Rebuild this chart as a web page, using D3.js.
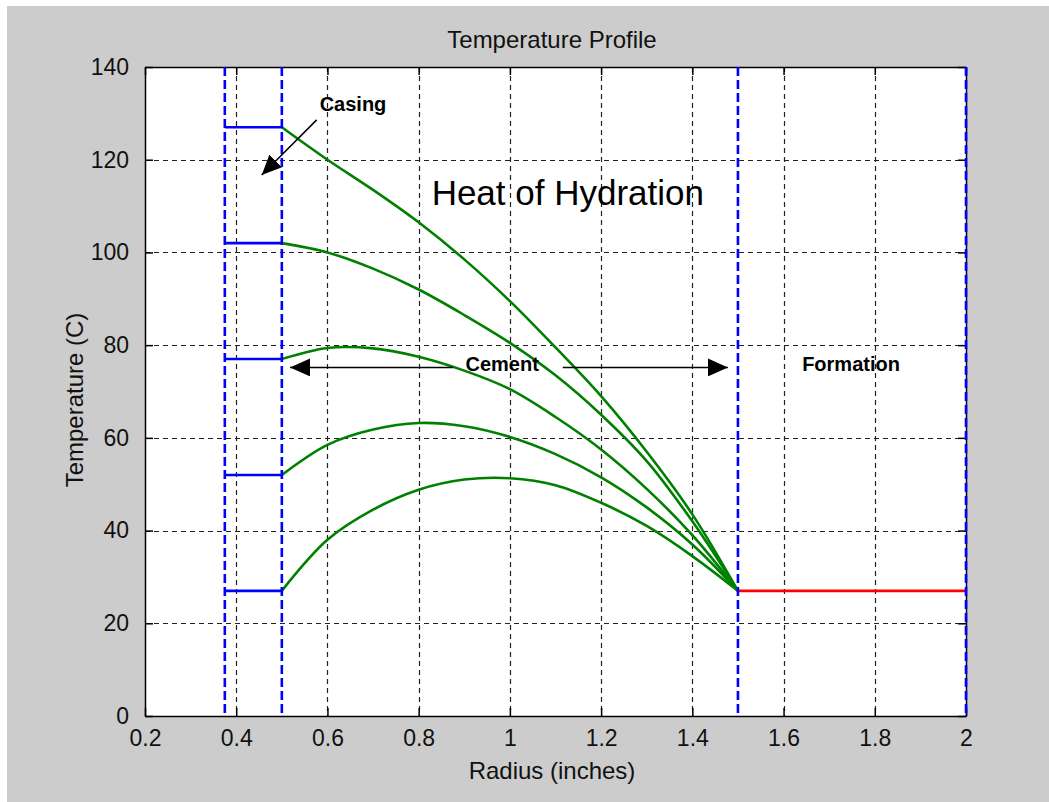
<!DOCTYPE html>
<html><head><meta charset="utf-8">
<script src="https://cdn.jsdelivr.net/npm/d3@7"></script>
<style>
html,body{margin:0;padding:0;background:#fff;}
svg{display:block;}
text{font-family:Arial,"Liberation Sans",sans-serif;}
</style></head>
<body>
<script>
// ---- data ----
const radius = [0.5,0.6,0.7,0.8,0.9,1.0,1.1,1.2,1.3,1.4,1.5];
const curve1 = [127,120,113.5,106.5,98.5,89.5,79.5,69,57,43.5,27];
const curve2 = [102,100,96.5,92,86.5,80.5,73.5,65,55,42,27];
const curve3 = [77,79.4,79.3,77.5,74.5,70.5,64.5,57.5,49,39,27];
const curve4 = [52,58.5,61.8,63.2,62.5,60.2,56.5,51.5,45,37,27];
const curve5 = [27,38,44.5,48.8,51,51.3,49.8,46,41,34.5,27];
const greenSeries = [curve1,curve2,curve3,curve4,curve5];
const casingR = [0.375,0.5];
const casingT = [127,102,77,52,27];
const formationR = [1.5,2.0];
const formationT = [27,27];
const boundaries = [0.375,0.5,1.5,2.0];
const xTicks = [0.2,0.4,0.6,0.8,1.0,1.2,1.4,1.6,1.8,2.0];
const yTicks = [0,20,40,60,80,100,120,140];
const xTickLabels = ["0.2","0.4","0.6","0.8","1","1.2","1.4","1.6","1.8","2"];

const W=1049,H=802;
const L=145,R=966,T=67,B=716;
const svg=d3.select("body").append("svg").attr("width",W).attr("height",H);
svg.append("rect").attr("x",7).attr("y",6).attr("width",W-7).attr("height",H-6).attr("fill","#cccccc");
const x=d3.scaleLinear().domain([0.2,2]).range([L,R]);
const y=d3.scaleLinear().domain([0,140]).range([B,T]);
svg.append("rect").attr("x",L).attr("y",T).attr("width",R-L).attr("height",B-T).attr("fill","#fff");

// grid
const g=svg.append("g");
g.selectAll(".gx").data(xTicks.slice(1,-1)).enter().append("line")
 .attr("x1",d=>Math.round(x(d))+0.5).attr("x2",d=>Math.round(x(d))+0.5).attr("y1",T).attr("y2",B)
 .attr("stroke","#222").attr("stroke-width",1.2).attr("stroke-dasharray","5,4");
g.selectAll(".gy").data(yTicks.slice(1,-1)).enter().append("line")
 .attr("y1",d=>Math.round(y(d))+0.5).attr("y2",d=>Math.round(y(d))+0.5).attr("x1",L).attr("x2",R)
 .attr("stroke","#222").attr("stroke-width",1.2).attr("stroke-dasharray","5,4");

// axes with inner ticks
const tl=8;
const ax=svg.append("g").attr("transform",`translate(0,${B})`).call(d3.axisBottom(x).tickValues(xTicks).tickFormat((d,i)=>xTickLabels[i]).tickSizeInner(-tl).tickSizeOuter(0).tickPadding(14));
const axT=svg.append("g").attr("transform",`translate(0,${T})`).call(d3.axisTop(x).tickValues(xTicks).tickFormat("").tickSizeInner(-tl).tickSizeOuter(0));
const ay=svg.append("g").attr("transform",`translate(${L},0)`).call(d3.axisLeft(y).tickValues(yTicks).tickSizeInner(-tl).tickSizeOuter(0).tickPadding(16));
const ayR=svg.append("g").attr("transform",`translate(${R},0)`).call(d3.axisRight(y).tickValues(yTicks).tickFormat("").tickSizeInner(-tl).tickSizeOuter(0));
[ax,axT,ay,ayR].forEach(a=>{
  a.selectAll("path").attr("stroke","#000").attr("stroke-width",1.5);
  a.selectAll("line").attr("stroke","#000").attr("stroke-width",1.5);
  a.selectAll("text").attr("font-size",23).attr("fill","#111").style("font-family","Arial, 'Liberation Sans', sans-serif");
});
ax.selectAll("text").attr("dy","0.71em");

// series
const line=d3.line().x((d,i)=>x(radius[i])).y(d=>y(d)).curve(d3.curveCatmullRom.alpha(0.5));
svg.append("g").selectAll("path").data(greenSeries).enter().append("path")
 .attr("d",line).attr("fill","none").attr("stroke","#008000").attr("stroke-width",2.6);
svg.append("g").selectAll("line").data(casingT).enter().append("line")
 .attr("x1",x(casingR[0])).attr("x2",x(casingR[1])).attr("y1",d=>y(d)).attr("y2",d=>y(d))
 .attr("stroke","#0000ff").attr("stroke-width",2.6);
svg.append("line").attr("x1",x(formationR[0])).attr("x2",x(formationR[1])).attr("y1",y(formationT[0])).attr("y2",y(formationT[1]))
 .attr("stroke","#ff0000").attr("stroke-width",2.6);
svg.append("g").selectAll("line").data(boundaries).enter().append("line")
 .attr("x1",d=>x(d)).attr("x2",d=>x(d)).attr("y1",T).attr("y2",B)
 .attr("stroke","#0000ff").attr("stroke-width",2.6).attr("stroke-dasharray","9,4");

// annotations
const arrows=[
  {x1:0.5765,y1:128.6,x2:0.4559,y2:116.7},
  {x1:0.875,y1:75.2,x2:0.518,y2:75.2},
  {x1:1.116,y1:75.2,x2:1.478,y2:75.2}
];
svg.append("defs").append("marker").attr("id","ah").attr("viewBox","0 0 20 18").attr("refX",20).attr("refY",9)
 .attr("markerWidth",20).attr("markerHeight",18).attr("markerUnits","userSpaceOnUse").attr("orient","auto")
 .append("path").attr("d","M0,0L20,9L0,18Z").attr("fill","#000");
svg.append("g").selectAll("line").data(arrows).enter().append("line")
 .attr("x1",d=>x(d.x1)).attr("y1",d=>y(d.y1)).attr("x2",d=>x(d.x2)).attr("y2",d=>y(d.y2))
 .attr("stroke","#000").attr("stroke-width",1.5).attr("marker-end","url(#ah)");
const labels=[
  {t:"Casing",x:0.656,y:130.5,s:20,w:"bold"},
  {t:"Cement",x:0.983,y:74.5,s:20,w:"bold"},
  {t:"Formation",x:1.748,y:74.5,s:20,w:"bold"},
  {t:"Heat of Hydration",x:1.127,y:110.2,s:35,w:"normal"}
];
svg.append("g").selectAll("text").data(labels).enter().append("text")
 .attr("x",d=>x(d.x)).attr("y",d=>y(d.y)).attr("text-anchor","middle")
 .attr("font-size",d=>d.s).attr("font-weight",d=>d.w).attr("fill","#000").text(d=>d.t);

svg.append("text").attr("x",552).attr("y",48).attr("text-anchor","middle").attr("font-size",24).attr("fill","#111").text("Temperature Profile");
svg.append("text").attr("x",552).attr("y",779).attr("text-anchor","middle").attr("font-size",24).attr("fill","#111").text("Radius (inches)");
svg.append("text").attr("transform",`translate(83,400) rotate(-90)`).attr("text-anchor","middle").attr("font-size",24).attr("fill","#111").text("Temperature (C)");
</script>
</body></html>
